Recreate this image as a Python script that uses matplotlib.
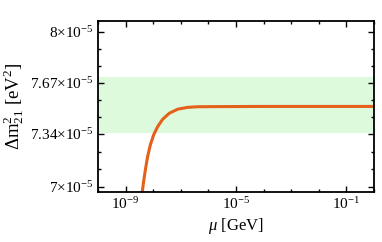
import numpy as np
import matplotlib
matplotlib.use("Agg")
import matplotlib.pyplot as plt
from matplotlib.ticker import FixedLocator, FixedFormatter, NullFormatter

plt.rcParams['font.family'] = ['Liberation Serif', 'DejaVu Serif']
plt.rcParams['mathtext.fontset'] = 'custom'
plt.rcParams['mathtext.rm'] = 'Liberation Serif'
plt.rcParams['mathtext.it'] = 'Liberation Serif:italic'
plt.rcParams['mathtext.bf'] = 'Liberation Serif:bold'

# data
log_mu = [-8.44, -8.395, -8.348, -8.275, -8.203, -8.105, -7.986, -7.841, -7.659,
          -7.417, -7.116, -6.754, -6.391, -5.5, -4.0, -2.0, 0.0]
dm21 = [6.905, 6.968, 7.033, 7.119, 7.194, 7.269, 7.334, 7.387, 7.435,
        7.474, 7.500, 7.512, 7.516, 7.517, 7.518, 7.518, 7.518]  # x 1e-5 eV^2
band_lo, band_hi = 7.345, 7.71  # x 1e-5
yticks = [7.0, 7.34, 7.67, 8.0]
ytick_labels = [r'$7{\times}10^{-5}$', r'$7.34{\times}10^{-5}$',
                r'$7.67{\times}10^{-5}$', r'$8{\times}10^{-5}$']
xticks_exp = [-9, -5, -1]

mu = 10.0 ** np.array(log_mu)
dm = np.array(dm21) * 1e-5

fig = plt.figure(figsize=(3.82, 2.42), dpi=100)
ax = fig.add_axes([98/382, 1 - 191.7/242, (374-98)/382, (191.7-20.7)/242])

ax.axhspan(band_lo * 1e-5, band_hi * 1e-5, color='#ddfadd', lw=0, zorder=0)
ax.plot(mu, dm, color='#e5601a', lw=2.2, solid_capstyle='butt', zorder=2)

ax.set_xscale('log')
ax.set_xlim(1e-10, 1.0)
ax.set_ylim(6.968e-5, 8.071e-5)

ax.xaxis.set_major_locator(FixedLocator([10.0**e for e in xticks_exp]))
ax.xaxis.set_major_formatter(FixedFormatter([rf'$10^{{{e}}}$' for e in xticks_exp]))
ax.xaxis.set_minor_locator(FixedLocator([10.0**e for e in range(-10, 1) if e not in xticks_exp]))
ax.xaxis.set_minor_formatter(NullFormatter())

ax.yaxis.set_major_locator(FixedLocator([v * 1e-5 for v in yticks]))
ax.yaxis.set_major_formatter(FixedFormatter(ytick_labels))
minors = []
for a, b in zip(yticks[:-1], yticks[1:]):
    minors += [a + (b - a) / 3, a + 2 * (b - a) / 3]
ax.yaxis.set_minor_locator(FixedLocator([v * 1e-5 for v in minors]))
ax.yaxis.set_minor_formatter(NullFormatter())

ax.tick_params(which='both', direction='in', top=True, right=True, width=1.0, labelsize=11, pad=3)
ax.tick_params(which='major', length=4)
ax.tick_params(which='minor', length=2.5)
for s in ax.spines.values():
    s.set_linewidth(1.3)

ax.set_xlabel(r'$\mu$ [GeV]', fontsize=12, labelpad=3)
ax.set_ylabel(r'$\Delta\mathrm{m}^2_{21}$ [eV$^2$]', fontsize=13.5, labelpad=3)

fig.savefig('out.png', dpi=100)
